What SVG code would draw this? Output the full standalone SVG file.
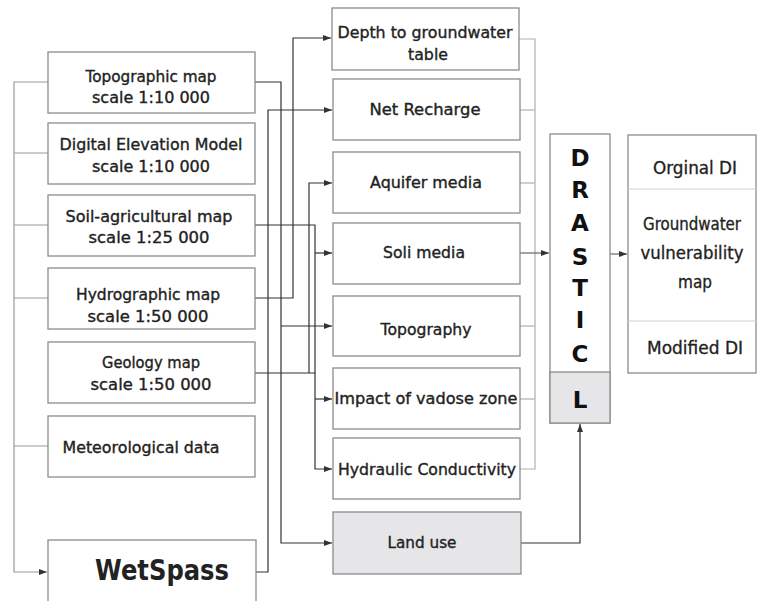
<svg xmlns="http://www.w3.org/2000/svg" width="757" height="601" viewBox="0 0 757 601">
<defs>
<marker id="ah" viewBox="0 0 8 6" refX="8" refY="3" markerWidth="8" markerHeight="6" markerUnits="userSpaceOnUse" orient="auto">
<path d="M0,0 L8,3 L0,6 z" fill="#333"/>
</marker>
<style>
.box{fill:#fff;stroke:#8c8c8c;stroke-width:1.3}
.gbox{fill:#e6e6e8;stroke:#8c8c8c;stroke-width:1.3}
.t{font-family:"DejaVu Sans",sans-serif;font-size:15px;fill:#222;stroke:#222;stroke-width:0.35;text-anchor:middle}
.c{font-family:"DejaVu Sans Condensed","DejaVu Sans",sans-serif;font-size:17px;fill:#222;stroke:#222;stroke-width:0.3;text-anchor:middle}
.big{font-family:"DejaVu Sans",sans-serif;font-size:29px;font-weight:bold;fill:#222;text-anchor:middle}
.L{font-family:"DejaVu Sans",sans-serif;font-size:23px;font-weight:bold;fill:#111;text-anchor:middle}
.dk{fill:none;stroke:#333;stroke-width:1.2}
.lg{fill:none;stroke:#9a9a9a;stroke-width:1.2}
.gr{fill:none;stroke:#b0b0b0;stroke-width:1.2}
</style>
</defs>
<rect width="757" height="601" fill="#fff"/>

<g id="connectors">
<path class="lg" d="M48,82 H14 V572 H47" marker-end="url(#ah)"/>
<path class="lg" d="M48,153 H14"/>
<path class="lg" d="M48,225 H14"/>
<path class="lg" d="M48,298 H14"/>
<path class="lg" d="M48,446 H14"/>
<path class="dk" d="M255,82 H281 V543 H332" marker-end="url(#ah)"/>
<path class="dk" d="M281,326 H332" marker-end="url(#ah)"/>
<path class="dk" d="M256,572 H268 V110 H332" marker-end="url(#ah)"/>
<path class="dk" d="M255,298 H293 V38 H331" marker-end="url(#ah)"/>
<path class="dk" d="M255,373 H315"/>
<path class="dk" d="M309,373 V183 H332" marker-end="url(#ah)"/>
<path class="dk" d="M255,225 H315 V469 H332" marker-end="url(#ah)"/>
<path class="dk" d="M315,253 H332" marker-end="url(#ah)"/>
<path class="dk" d="M315,399 H332" marker-end="url(#ah)"/>
<path class="gr" d="M519,39 H535 V469 H520"/>
<path class="gr" d="M520,110 H535"/>
<path class="gr" d="M520,183 H535"/>
<path class="gr" d="M520,326 H535"/>
<path class="gr" d="M520,399 H535"/>
<path class="dk" style="stroke:#666" d="M520,253 H549" marker-end="url(#ah)"/>
<path class="dk" d="M521,543 H580 V424" marker-end="url(#ah)"/>
<path class="dk" style="stroke:#666" d="M610,254 H627" marker-end="url(#ah)"/>
</g>

<g id="topographic-map">
<rect class="box" x="48" y="52" width="207" height="61"/>
<text class="t" x="151" y="82" textLength="131" lengthAdjust="spacingAndGlyphs">Topographic map</text>
<text class="t" x="151" y="103" textLength="118" lengthAdjust="spacingAndGlyphs">scale 1:10 000</text>
</g>
<g id="dem">
<rect class="box" x="48" y="123" width="207" height="61"/>
<text class="t" x="151" y="150" textLength="183" lengthAdjust="spacingAndGlyphs">Digital Elevation Model</text>
<text class="t" x="151" y="172" textLength="118" lengthAdjust="spacingAndGlyphs">scale 1:10 000</text>
</g>
<g id="soil-agricultural-map">
<rect class="box" x="48" y="195" width="207" height="61"/>
<text class="t" x="149" y="222" textLength="167" lengthAdjust="spacingAndGlyphs">Soil-agricultural map</text>
<text class="t" x="149" y="243" textLength="121" lengthAdjust="spacingAndGlyphs">scale 1:25 000</text>
</g>
<g id="hydrographic-map">
<rect class="box" x="48" y="268" width="207" height="61"/>
<text class="t" x="148" y="300" textLength="144" lengthAdjust="spacingAndGlyphs">Hydrographic map</text>
<text class="t" x="148" y="322" textLength="121" lengthAdjust="spacingAndGlyphs">scale 1:50 000</text>
</g>
<g id="geology-map">
<rect class="box" x="48" y="342" width="207" height="61"/>
<text class="t" x="151" y="368" textLength="98" lengthAdjust="spacingAndGlyphs">Geology map</text>
<text class="t" x="151" y="390" textLength="121" lengthAdjust="spacingAndGlyphs">scale 1:50 000</text>
</g>
<g id="meteorological-data">
<rect class="box" x="48" y="416" width="207" height="61"/>
<text class="t" x="141" y="453" textLength="157" lengthAdjust="spacingAndGlyphs">Meteorological data</text>
</g>
<g id="wetspass">
<rect class="box" x="48" y="540" width="208" height="70"/>
<text class="big" x="162" y="580" textLength="134" lengthAdjust="spacingAndGlyphs">WetSpass</text>
</g>

<g id="depth">
<rect class="box" x="332" y="8" width="187" height="62"/>
<text class="t" x="425" y="38" textLength="175" lengthAdjust="spacingAndGlyphs">Depth to groundwater</text>
<text class="t" x="428" y="60" textLength="40" lengthAdjust="spacingAndGlyphs">table</text>
</g>
<g id="net-recharge">
<rect class="box" x="333" y="79" width="187" height="61"/>
<text class="t" x="425" y="115" textLength="111" lengthAdjust="spacingAndGlyphs">Net Recharge</text>
</g>
<g id="aquifer-media">
<rect class="box" x="333" y="152" width="187" height="61"/>
<text class="t" x="426" y="188" textLength="112" lengthAdjust="spacingAndGlyphs">Aquifer media</text>
</g>
<g id="soli-media">
<rect class="box" x="333" y="223" width="187" height="61"/>
<text class="t" x="424" y="258" textLength="82" lengthAdjust="spacingAndGlyphs">Soli media</text>
</g>
<g id="topography">
<rect class="box" x="333" y="296" width="187" height="60"/>
<text class="t" x="426" y="335" textLength="91" lengthAdjust="spacingAndGlyphs">Topography</text>
</g>
<g id="impact-vadose">
<rect class="box" x="333" y="368" width="187" height="61"/>
<text class="t" x="426" y="404" textLength="183" lengthAdjust="spacingAndGlyphs">Impact of vadose zone</text>
</g>
<g id="hydraulic-conductivity">
<rect class="box" x="333" y="438" width="187" height="61"/>
<text class="t" x="427" y="475" textLength="178" lengthAdjust="spacingAndGlyphs">Hydraulic Conductivity</text>
</g>
<g id="land-use">
<rect class="gbox" x="333" y="512" width="188" height="62"/>
<text class="t" x="422" y="548" textLength="69" lengthAdjust="spacingAndGlyphs">Land use</text>
</g>

<g id="drastic">
<rect class="box" x="550" y="134" width="60" height="289"/>
<rect class="gbox" x="550" y="372" width="60" height="51"/>
<text class="L" x="580" y="166">D</text>
<text class="L" x="580" y="198">R</text>
<text class="L" x="580" y="231">A</text>
<text class="L" x="580" y="265">S</text>
<text class="L" x="580" y="296">T</text>
<text class="L" x="580" y="328">I</text>
<text class="L" x="580" y="362">C</text>
<text class="L" x="580" y="408">L</text>
</g>

<g id="output">
<rect class="box" x="628" y="135" width="128" height="238"/>
<path d="M628,189 H756 M628,321 H756" stroke="#cfcfcf" stroke-width="1.2"/>
<text class="c" x="695" y="174" textLength="84" lengthAdjust="spacingAndGlyphs">Orginal DI</text>
<text class="c" x="692" y="230" textLength="98" lengthAdjust="spacingAndGlyphs">Groundwater</text>
<text class="c" x="692" y="259" textLength="103" lengthAdjust="spacingAndGlyphs">vulnerability</text>
<text class="c" x="695" y="288" textLength="34" lengthAdjust="spacingAndGlyphs">map</text>
<text class="c" x="695" y="354" textLength="96" lengthAdjust="spacingAndGlyphs">Modified DI</text>
</g>
</svg>
